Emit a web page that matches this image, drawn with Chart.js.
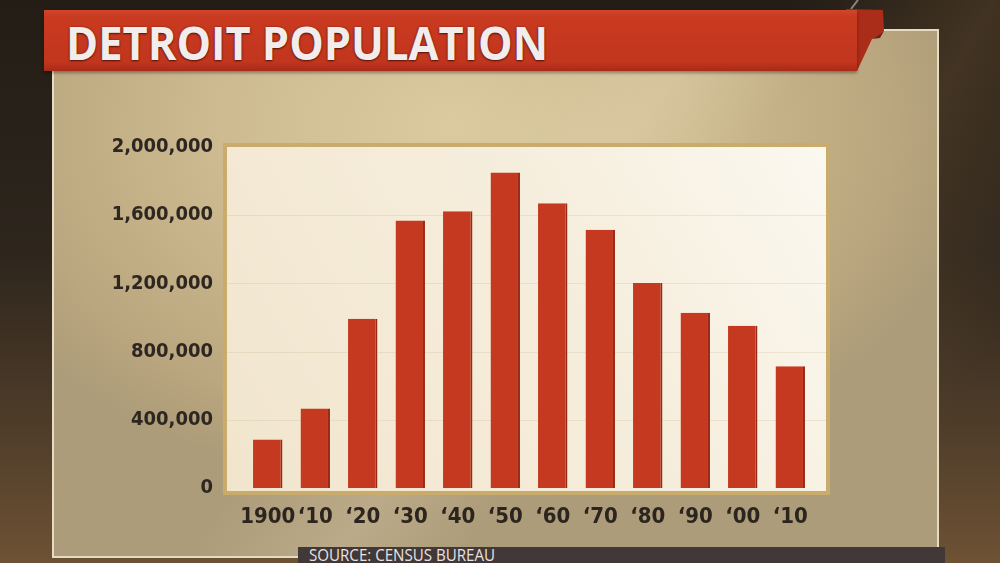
<!DOCTYPE html>
<html>
<head>
<meta charset="utf-8">
<script src="https://cdn.jsdelivr.net/npm/chart.js@4/dist/chart.umd.min.js"></script>
<style>
  html, body { margin:0; padding:0; width:1000px; height:563px; overflow:hidden; }
  body {
    position:relative;
    background:
      linear-gradient(120deg, rgba(0,0,0,0) 0%, rgba(0,0,0,0) 60%, rgba(120,90,55,0.35) 75%, rgba(0,0,0,0) 90%),
      linear-gradient(to bottom, #231d16 0%, #2e261d 45%, #4e3c29 75%, #6e5234 100%);
    font-family: "Open Sans", "DejaVu Sans", sans-serif;
  }
  #panel {
    position:absolute; left:52px; top:29px; width:887px; height:529px;
    box-sizing:border-box; border:2px solid #e6dcc4;
    background:
      linear-gradient(125deg, rgba(255,255,255,0) 40%, rgba(255,245,220,0.16) 52%, rgba(255,255,255,0) 62%),
      radial-gradient(ellipse 60% 70% at 45% 18%, #dbcaa0 0%, #cdba90 45%, #bca880 80%, #ad9c79 100%);
  }
  #banner {
    position:absolute; left:44px; top:10px; width:813px; height:61px;
    background: linear-gradient(to bottom, #d1462b 0%, #c93a20 12%, #c2361e 85%, #a82a17 100%);
    box-shadow: 0 2px 3px rgba(0,0,0,0.35);
  }
  #title {
    position:absolute; left:66px; top:14px; white-space:nowrap;
    font-family:"Open Sans", sans-serif; font-weight:700; font-size:46px; line-height:56px;
    color:#f2ecec; transform-origin:0 0;
    text-shadow: 0 1px 2px rgba(60,10,0,0.8), 0 0 2px rgba(80,20,10,0.6);
  }
  #fold { position:absolute; left:0; top:0; }
  #source {
    position:absolute; left:298px; top:547px; width:647px; height:16px;
    background:#413838;
  }
  #sourcetext {
    position:absolute; left:309px; top:545px; white-space:nowrap;
    font-family:"Open Sans", sans-serif; font-size:16px; line-height:20px; font-weight:400;
    color:#e9e2e2; transform-origin:0 0;
  }
  #c { position:absolute; left:0; top:0; }
</style>
</head>
<body>
<div id="panel"></div>
<svg id="fold" width="1000" height="80">
  <line x1="851" y1="9" x2="858" y2="0" stroke="#8f8680" stroke-width="2"/>
  <polygon points="846,9 883,10 884,31 872,39 857,71 846,71" fill="#a92d18"/>
  <polygon points="872,39 884,31 880,38" fill="#7a1f10"/>
</svg>
<div id="banner"></div>
<div id="title">DETROIT POPULATION</div>
<div id="source"></div>
<div id="sourcetext">SOURCE: CENSUS BUREAU</div>
<canvas id="c" width="1000" height="563"></canvas>
<script>
const categories = ["1900", "\u201810", "\u201820", "\u201830", "\u201840", "\u201850", "\u201860", "\u201870", "\u201880", "\u201890", "\u201800", "\u201810"];
const population = [285000, 466000, 993000, 1569000, 1623000, 1850000, 1670000, 1514000, 1203000, 1028000, 951000, 714000];
const yTickValues = [0, 400000, 800000, 1200000, 1600000, 2000000];

function fitWidth(id, target) {
  const t = document.getElementById(id);
  const w = t.getBoundingClientRect().width;
  t.style.transform = 'scaleX(' + (target / w) + ')';
}
fitWidth('title', 482);
fitWidth('sourcetext', 186);

const plotBg = {
  id: 'plotBg',
  beforeDraw(chart) {
    const {ctx, chartArea: a, scales} = chart;
    const L = a.left - 17, R = a.right + 12, T = a.top, B = a.bottom + 3;
    ctx.save();
    const g = ctx.createLinearGradient(L, B, R, T);
    g.addColorStop(0, '#f1e5cd');
    g.addColorStop(0.6, '#f6eedd');
    g.addColorStop(1, '#fbf8f0');
    ctx.fillStyle = g;
    ctx.fillRect(L, T, R - L, B - T);
    ctx.strokeStyle = '#c9ab6c';
    ctx.lineWidth = 4;
    ctx.strokeRect(L - 2, T - 2, R - L + 4, B - T + 4);
    // faint horizontal gridlines across the full plot panel
    ctx.strokeStyle = 'rgba(215,195,160,0.35)';
    ctx.lineWidth = 1;
    scales.y.ticks.forEach(t => {
      if (t.value === 0 || t.value === 2000000) return;
      const y = Math.round(scales.y.getPixelForValue(t.value)) + 0.5;
      ctx.beginPath(); ctx.moveTo(L, y); ctx.lineTo(R, y); ctx.stroke();
    });
    ctx.restore();
  }
};

const tickFont = '"DejaVu Sans Condensed", "DejaVu Sans", sans-serif';

new Chart(document.getElementById('c'), {
  type: 'bar',
  data: {
    labels: categories,
    datasets: [{
      data: population,
      backgroundColor: '#c4391f',
      borderColor: '#982a15',
      borderWidth: {right: 2, top: 0, left: 0, bottom: 0},
      borderSkipped: false,
      categoryPercentage: 1,
      barPercentage: 0.62
    }]
  },
  options: {
    responsive: false,
    animation: false,
    layout: { padding: { left: 0, top: 147, right: 186, bottom: 35 } },
    plugins: { legend: { display: false }, tooltip: { enabled: false }, title: { display: false } },
    scales: {
      x: {
        grid: { display: false, drawTicks: false },
        border: { display: false },
        ticks: {
          color: '#2c241e', padding: 16,
          font: { family: tickFont, weight: 'bold', size: 22 },
          maxRotation: 0, autoSkip: false
        },
        afterFit(axis) { axis.height = 40; }
      },
      y: {
        min: 0, max: 2000000,
        afterBuildTicks(axis) { axis.ticks = yTickValues.map(v => ({ value: v })); },
        grid: { display: false, drawTicks: false },
        border: { display: false },
        ticks: {
          color: '#2e2620', padding: 31,
          font: { family: tickFont, weight: 'bold', size: 20 },
          callback: v => v.toLocaleString('en-US')
        },
        afterFit(axis) { axis.width = 244; }
      }
    }
  },
  plugins: [plotBg]
});
</script>
</body>
</html>
